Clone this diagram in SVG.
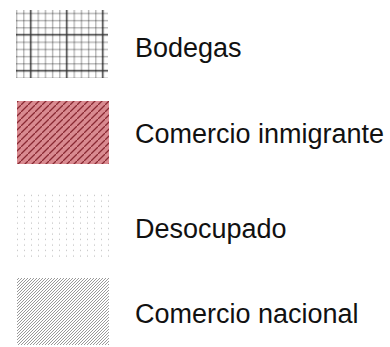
<svg xmlns="http://www.w3.org/2000/svg" width="390" height="347" viewBox="0 0 390 347">
<style>
.lbl{font-family:"Liberation Sans",Arial,sans-serif;font-size:27px;fill:#111}
</style>
<defs>
<pattern id="grid" patternUnits="userSpaceOnUse" x="-2.7" y="1.3" width="36" height="36">
<rect width="36" height="36" fill="#fff"/>
<g stroke="#000" stroke-opacity="0.4" stroke-width="1">
<path d="M5 0V36M12.2 0V36M19.4 0V36M26.6 0V36M0 5H36M0 12.2H36M0 19.4H36M0 26.6H36"/>
</g>
<path d="M33.5 0V36M0 33.5H36" stroke="#000" stroke-opacity="0.8" stroke-width="1.5"/>
</pattern>
<pattern id="red" patternUnits="userSpaceOnUse" width="7" height="7">
<rect width="7" height="7" fill="#d98a90"/>
<path d="M-1 8L8 -1M-2 1L1 -2M6 9L9 6" stroke="#8a2a33" stroke-width="1.3"/>
</pattern>
<pattern id="dots" patternUnits="userSpaceOnUse" width="7" height="5.5">
<rect width="7" height="5.5" fill="#fff"/>
<rect x="3" y="2.5" width="1" height="1" fill="#b5b5b5"/>
</pattern>
<pattern id="grey" patternUnits="userSpaceOnUse" width="3" height="3">
<rect width="3" height="3" fill="#fff"/>
<path d="M-0.75 3.75L3.75 -0.75M-0.75 0.75L0.75 -0.75M2.25 3.75L3.75 2.25" stroke="#999" stroke-width="1"/>
</pattern>
</defs>
<g id="bodegas">
<rect x="16" y="10" width="92" height="68" fill="url(#grid)"/>
<text class="lbl" x="135" y="57">Bodegas</text>
</g>
<g id="comercio-inmigrante">
<rect x="17" y="101" width="92" height="63" fill="url(#red)"/>
<text class="lbl" x="135" y="143">Comercio inmigrante</text>
</g>
<g id="desocupado">
<rect x="17" y="193" width="92" height="65" fill="url(#dots)"/>
<text class="lbl" x="135" y="238">Desocupado</text>
</g>
<g id="comercio-nacional">
<rect x="17" y="278" width="92" height="67" fill="url(#grey)"/>
<text class="lbl" x="135" y="323">Comercio nacional</text>
</g>
</svg>
